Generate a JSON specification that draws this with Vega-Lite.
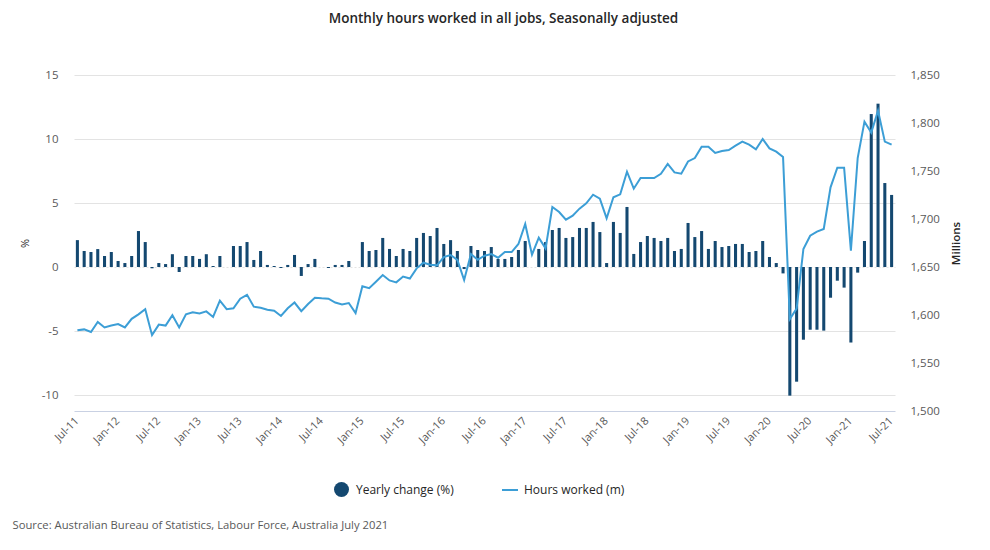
{
  "$schema": "https://vega.github.io/schema/vega-lite/v6.json",
  "autosize": {"type": "none"},
  "width": 821,
  "height": 336,
  "padding": {"left": 74, "top": 75, "right": 95, "bottom": 139},
  "background": "#ffffff",
  "config": {
    "font": "Open Sans",
    "view": {"stroke": null},
    "axis": {"labelFont": "Open Sans", "titleFont": "Open Sans"},
    "legend": {"labelFont": "Open Sans"}
  },
  "title": {
    "text": "Monthly hours worked in all jobs, Seasonally adjusted",
    "fontSize": 13.5,
    "fontWeight": 600,
    "color": "#262626",
    "anchor": "middle",
    "frame": "group",
    "dx": 19,
    "baseline": "alphabetic",
    "offset": 33
  },
  "data": {
    "values": [
      {"m": "Jul-11", "c": 2.1, "h": 1584},
      {"m": "Aug-11", "c": 1.25, "h": 1585},
      {"m": "Sep-11", "c": 1.17, "h": 1582.3},
      {"m": "Oct-11", "c": 1.4, "h": 1592.7},
      {"m": "Nov-11", "c": 0.86, "h": 1587},
      {"m": "Dec-11", "c": 1.17, "h": 1589},
      {"m": "Jan-12", "c": 0.47, "h": 1590.6},
      {"m": "Feb-12", "c": 0.31, "h": 1587},
      {"m": "Mar-12", "c": 0.86, "h": 1596},
      {"m": "Apr-12", "c": 2.81, "h": 1600.7},
      {"m": "May-12", "c": 1.95, "h": 1606},
      {"m": "Jun-12", "c": -0.1, "h": 1579},
      {"m": "Jul-12", "c": 0.31, "h": 1590},
      {"m": "Aug-12", "c": 0.23, "h": 1589},
      {"m": "Sep-12", "c": 1.0, "h": 1599.7},
      {"m": "Oct-12", "c": -0.39, "h": 1587},
      {"m": "Nov-12", "c": 0.86, "h": 1600.7},
      {"m": "Dec-12", "c": 0.86, "h": 1602.8},
      {"m": "Jan-13", "c": 0.63, "h": 1601.7},
      {"m": "Feb-13", "c": 1.0, "h": 1603.8},
      {"m": "Mar-13", "c": 0.08, "h": 1598},
      {"m": "Apr-13", "c": 0.86, "h": 1615},
      {"m": "May-13", "c": 0.0, "h": 1606},
      {"m": "Jun-13", "c": 1.64, "h": 1607},
      {"m": "Jul-13", "c": 1.64, "h": 1617},
      {"m": "Aug-13", "c": 1.95, "h": 1621},
      {"m": "Sep-13", "c": 0.55, "h": 1608.7},
      {"m": "Oct-13", "c": 1.25, "h": 1607.6},
      {"m": "Nov-13", "c": 0.16, "h": 1605.5},
      {"m": "Dec-13", "c": 0.08, "h": 1604.5},
      {"m": "Jan-14", "c": -0.08, "h": 1599},
      {"m": "Feb-14", "c": 0.16, "h": 1607},
      {"m": "Mar-14", "c": 0.94, "h": 1613},
      {"m": "Apr-14", "c": -0.7, "h": 1604},
      {"m": "May-14", "c": 0.23, "h": 1611.5},
      {"m": "Jun-14", "c": 0.63, "h": 1618},
      {"m": "Jul-14", "c": 0.0, "h": 1617.4},
      {"m": "Aug-14", "c": -0.08, "h": 1617},
      {"m": "Sep-14", "c": 0.16, "h": 1613},
      {"m": "Oct-14", "c": 0.16, "h": 1611},
      {"m": "Nov-14", "c": 0.47, "h": 1612.5},
      {"m": "Dec-14", "c": 0.0, "h": 1602},
      {"m": "Jan-15", "c": 1.95, "h": 1630},
      {"m": "Feb-15", "c": 1.25, "h": 1628},
      {"m": "Mar-15", "c": 1.33, "h": 1634.7},
      {"m": "Apr-15", "c": 2.27, "h": 1641.7},
      {"m": "May-15", "c": 1.41, "h": 1636},
      {"m": "Jun-15", "c": 0.86, "h": 1634},
      {"m": "Jul-15", "c": 1.41, "h": 1640},
      {"m": "Aug-15", "c": 1.25, "h": 1638},
      {"m": "Sep-15", "c": 2.27, "h": 1648.6},
      {"m": "Oct-15", "c": 2.66, "h": 1654.5},
      {"m": "Nov-15", "c": 2.42, "h": 1652.4},
      {"m": "Dec-15", "c": 3.05, "h": 1651.7},
      {"m": "Jan-16", "c": 1.8, "h": 1660.4},
      {"m": "Feb-16", "c": 2.1, "h": 1662.5},
      {"m": "Mar-16", "c": 1.25, "h": 1657.3},
      {"m": "Apr-16", "c": -0.16, "h": 1636.5},
      {"m": "May-16", "c": 1.64, "h": 1663.5},
      {"m": "Jun-16", "c": 1.33, "h": 1657.5},
      {"m": "Jul-16", "c": 1.25, "h": 1661.8},
      {"m": "Aug-16", "c": 1.56, "h": 1663.5},
      {"m": "Sep-16", "c": 0.63, "h": 1659.7},
      {"m": "Oct-16", "c": 0.63, "h": 1665.6},
      {"m": "Nov-16", "c": 0.78, "h": 1665.6},
      {"m": "Dec-16", "c": 1.33, "h": 1674},
      {"m": "Jan-17", "c": 2.03, "h": 1694.8},
      {"m": "Feb-17", "c": 0.0, "h": 1662.8},
      {"m": "Mar-17", "c": 1.41, "h": 1680.6},
      {"m": "Apr-17", "c": 1.95, "h": 1669.4},
      {"m": "May-17", "c": 2.89, "h": 1712.5},
      {"m": "Jun-17", "c": 3.05, "h": 1707.3},
      {"m": "Jul-17", "c": 2.27, "h": 1699.3},
      {"m": "Aug-17", "c": 2.34, "h": 1703.5},
      {"m": "Sep-17", "c": 3.05, "h": 1710.8},
      {"m": "Oct-17", "c": 3.05, "h": 1716.3},
      {"m": "Nov-17", "c": 3.52, "h": 1725.3},
      {"m": "Dec-17", "c": 2.73, "h": 1721.2},
      {"m": "Jan-18", "c": 0.31, "h": 1700.7},
      {"m": "Feb-18", "c": 3.52, "h": 1722.6},
      {"m": "Mar-18", "c": 2.66, "h": 1725.7},
      {"m": "Apr-18", "c": 4.69, "h": 1749.3},
      {"m": "May-18", "c": 1.02, "h": 1731.6},
      {"m": "Jun-18", "c": 1.95, "h": 1742.7},
      {"m": "Jul-18", "c": 2.42, "h": 1742.7},
      {"m": "Aug-18", "c": 2.27, "h": 1742.7},
      {"m": "Sep-18", "c": 2.03, "h": 1747},
      {"m": "Oct-18", "c": 2.27, "h": 1757.3},
      {"m": "Nov-18", "c": 1.25, "h": 1748.5},
      {"m": "Dec-18", "c": 1.41, "h": 1747.2},
      {"m": "Jan-19", "c": 3.44, "h": 1760},
      {"m": "Feb-19", "c": 2.34, "h": 1763.5},
      {"m": "Mar-19", "c": 2.81, "h": 1775.3},
      {"m": "Apr-19", "c": 1.41, "h": 1775.3},
      {"m": "May-19", "c": 2.03, "h": 1768.75},
      {"m": "Jun-19", "c": 1.56, "h": 1770.8},
      {"m": "Jul-19", "c": 1.64, "h": 1771.9},
      {"m": "Aug-19", "c": 1.8, "h": 1776.4},
      {"m": "Sep-19", "c": 1.8, "h": 1780.6},
      {"m": "Oct-19", "c": 1.17, "h": 1777.4},
      {"m": "Nov-19", "c": 1.25, "h": 1772.6},
      {"m": "Dec-19", "c": 2.03, "h": 1783.3},
      {"m": "Jan-20", "c": 0.78, "h": 1773.6},
      {"m": "Feb-20", "c": 0.31, "h": 1770.1},
      {"m": "Mar-20", "c": -0.5, "h": 1764.6},
      {"m": "Apr-20", "c": -10.05, "h": 1595.8},
      {"m": "May-20", "c": -8.96, "h": 1606.6},
      {"m": "Jun-20", "c": -5.68, "h": 1668.75},
      {"m": "Jul-20", "c": -4.9, "h": 1682.6},
      {"m": "Aug-20", "c": -4.9, "h": 1686.8},
      {"m": "Sep-20", "c": -4.97, "h": 1689.6},
      {"m": "Oct-20", "c": -2.4, "h": 1733},
      {"m": "Nov-20", "c": -1.07, "h": 1753.5},
      {"m": "Dec-20", "c": -1.61, "h": 1753.5},
      {"m": "Jan-21", "c": -5.9, "h": 1667},
      {"m": "Feb-21", "c": -0.44, "h": 1763.5},
      {"m": "Mar-21", "c": 2.03, "h": 1801.4},
      {"m": "Apr-21", "c": 11.95, "h": 1790},
      {"m": "May-21", "c": 12.76, "h": 1812.8},
      {"m": "Jun-21", "c": 6.56, "h": 1780.6},
      {"m": "Jul-21", "c": 5.63, "h": 1777.4}
    ]
  },
  "encoding": {
    "x": {
      "field": "m",
      "type": "ordinal",
      "sort": null,
      "scale": {"paddingInner": 0.55, "paddingOuter": 0.275},
      "axis": {
        "values": ["Jul-11","Jan-12","Jul-12","Jan-13","Jul-13","Jan-14","Jul-14","Jan-15","Jul-15","Jan-16","Jul-16","Jan-17","Jul-17","Jan-18","Jul-18","Jan-19","Jul-19","Jan-20","Jul-20","Jan-21","Jul-21"],
        "labelAngle": -45,
        "labelAlign": "right",
        "labelBaseline": "middle",
        "labelPadding": 8,
        "labelFontSize": 11,
        "labelColor": "#595959",
        "ticks": false,
        "domainColor": "#c9d1e3",
        "domainWidth": 1,
        "grid": false,
        "title": "Source: Australian Bureau of Statistics, Labour Force, Australia July 2021",
        "titleAnchor": "start",
        "titleAlign": "left",
        "titleBaseline": "alphabetic",
        "titleX": -62,
        "titleY": 117,
        "titleFontSize": 11.25,
        "titleFontWeight": "normal",
        "titleColor": "#595959"
      }
    }
  },
  "layer": [
    {
      "mark": {"type": "bar"},
      "encoding": {
        "y": {
          "field": "c",
          "type": "quantitative",
          "scale": {"domain": [-11.25, 15], "nice": false, "zero": false},
          "axis": {
            "orient": "left",
            "values": [-10, -5, 0, 5, 10, 15],
            "labelExpr": "'' + datum.value",
            "ticks": false,
            "domain": false,
            "labelPadding": 16,
            "labelFontSize": 11.5,
            "labelColor": "#595959",
            "grid": true,
            "gridColor": "#e3e3e3",
            "gridDash": {"condition": {"test": "datum.value === 0", "value": [2, 2]}, "value": []},
            "title": "%",
            "titleX": -49,
            "titleY": 168,
            "titleAlign": "center",
            "titleBaseline": "middle",
            "titleAngle": 270,
            "titleFontSize": 11,
            "titleFontWeight": "normal",
            "titleColor": "#262626"
          }
        },
        "fill": {
          "datum": "Yearly change (%)",
          "type": "nominal",
          "scale": {"range": ["#144870"]},
          "legend": {
            "orient": "none",
            "legendX": 259,
            "legendY": 406,
            "title": null,
            "symbolType": "circle",
            "symbolSize": 225,
            "labelFontSize": 12,
            "labelColor": "#262626",
            "labelOffset": 6
          }
        }
      }
    },
    {
      "mark": {"type": "line", "strokeWidth": 2},
      "encoding": {
        "y": {
          "field": "h",
          "type": "quantitative",
          "scale": {"domain": [1500, 1850], "nice": false, "zero": false},
          "axis": {
            "orient": "right",
            "values": [1500, 1550, 1600, 1650, 1700, 1750, 1800, 1850],
            "format": ",.0f",
            "ticks": false,
            "domain": false,
            "grid": false,
            "labelPadding": 15,
            "labelFontSize": 11.5,
            "labelColor": "#595959",
            "title": "Millions",
            "titleX": 61,
            "titleY": 168,
            "titleAlign": "center",
            "titleBaseline": "middle",
            "titleAngle": 270,
            "titleFontSize": 11.5,
            "titleFontWeight": 600,
            "titleColor": "#262626"
          }
        },
        "stroke": {
          "datum": "Hours worked (m)",
          "type": "nominal",
          "scale": {"range": ["#3c9ed6"]},
          "legend": {
            "orient": "none",
            "legendX": 427,
            "legendY": 406,
            "title": null,
            "symbolType": "stroke",
            "symbolSize": 256,
            "symbolStrokeWidth": 2,
            "labelFontSize": 12,
            "labelColor": "#262626",
            "labelOffset": 5
          }
        }
      }
    }
  ],
  "resolve": {"scale": {"y": "independent"}}
}
